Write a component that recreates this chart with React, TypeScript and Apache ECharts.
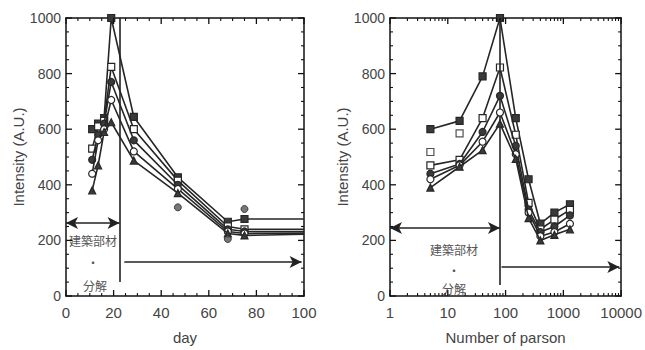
import React, { useEffect, useRef } from "react";
import * as echarts from "echarts";

// ---------- Data ----------
const dayX = [11, 13.5, 16, 19, 28.5, 47, 68, 75, 100];
const dayS1 = [600, 620, 640, 1000, 644, 427, 267, 277, 277];
const dayS2 = [530, 610, 630, 824, 600, 415, 250, 240, 240];
const dayS3 = [490, 580, 620, 770, 560, 400, 240, 232, 232];
const dayS4 = [440, 560, 600, 705, 520, 385, 232, 225, 226];
const dayS5 = [380, 470, 590, 625, 487, 370, 225, 218, 222];
const dayExtra = [
  [47, 319],
  [68, 205],
  [75, 313],
];

const personX = [5, 16, 40, 80, 150, 250, 400, 700, 1300];
const perS1 = [600, 630, 790, 1000, 640, 420, 260, 300, 330];
const perS2 = [470, 490, 640, 822, 580, 335, 240, 275, 310];
const perS3 = [440, 475, 590, 720, 540, 311, 230, 250, 290];
const perS4 = [420, 470, 555, 660, 510, 300, 215, 230, 260];
const perS5 = [390, 465, 525, 620, 493, 280, 200, 220, 240];
const perExtra = [
  [5, 518],
  [16, 585],
];

// tick values
const dayMajor = [0, 20, 40, 60, 80, 100];
const dayMinor = [5, 10, 15, 25, 30, 35, 45, 50, 55, 65, 70, 75, 85, 90, 95];
const yMajor = [0, 200, 400, 600, 800, 1000];
const yMinor = [50, 100, 150, 250, 300, 350, 450, 500, 550, 650, 700, 750, 850, 900, 950];
const logMajor = [1, 10, 100, 1000, 10000];
const logMinorFactors = [2, 3, 4, 5, 6, 7, 8, 9];

// annotation values
const dayBoundary = 22.5;
const personBoundary = 80;

const styles = [
  { symbol: "rect", fill: "#3a3a3a" },
  { symbol: "rect", fill: "#ffffff" },
  { symbol: "circle", fill: "#3a3a3a" },
  { symbol: "circle", fill: "#ffffff" },
  { symbol: "triangle", fill: "#3a3a3a" },
];

const FONT = "'Liberation Sans', Arial, sans-serif";
const CJK = "'Noto Sans CJK JP', sans-serif";

function makeLine(xs: number[], ys: number[], idx: number, axisIdx: number, lastNoMarker: boolean) {
  const st = styles[idx];
  return {
    type: "line",
    xAxisIndex: axisIdx,
    yAxisIndex: axisIdx === 0 ? 0 : 2,
    data: xs.map((x, i) => {
      const item: any = { value: [x, ys[i]] };
      if (lastNoMarker && i === xs.length - 1) item.symbolSize = 0;
      return item;
    }),
    symbol: st.symbol,
    symbolSize: 7,
    showAllSymbol: true,
    lineStyle: { color: "#262626", width: 1.6 },
    itemStyle: { color: st.fill, borderColor: "#262626", borderWidth: 1.2 },
    z: 3 + idx,
  };
}

export default function App() {
  const ref = useRef<HTMLDivElement>(null);
  useEffect(() => {
    document.body.style.margin = "0";
    const chart = echarts.init(ref.current!, null, { renderer: "svg" });

    const logMinor: number[] = [];
    logMajor.slice(0, -1).forEach((d) => logMinorFactors.forEach((k) => logMinor.push(d * k)));

    const axisLine = () => ({ show: true, onZero: false, lineStyle: { color: "#111", width: 1.5 } });
    const labelStyle = { color: "#444", fontSize: 15, fontFamily: FONT };

    const valueX = (pos: string, labels: boolean) => ({
      type: "value",
      gridIndex: 0,
      position: pos,
      min: 0,
      max: 100,
      interval: 20,
      axisLine: axisLine(),
      axisTick: { show: false },
      axisLabel: labels ? { show: true, margin: 9, ...labelStyle } : { show: false },
      splitLine: { show: false },
      name: labels ? "day" : "",
      nameLocation: "middle",
      nameGap: 34,
      nameTextStyle: { color: "#444", fontSize: 15, fontFamily: FONT },
    });

    const logX = (pos: string, labels: boolean) => ({
      type: "log",
      logBase: 10,
      gridIndex: 1,
      position: pos,
      min: 1,
      max: 10000,
      axisLine: axisLine(),
      axisTick: { show: false },
      axisLabel: labels
        ? { show: true, margin: 9, ...labelStyle, formatter: (v: number) => String(Math.round(v)) }
        : { show: false },
      splitLine: { show: false },
      name: labels ? "Number of parson" : "",
      nameLocation: "middle",
      nameGap: 34,
      nameTextStyle: { color: "#444", fontSize: 15, fontFamily: FONT },
    });

    const valueY = (grid: number, pos: string, labels: boolean) => ({
      type: "value",
      gridIndex: grid,
      position: pos,
      min: 0,
      max: 1000,
      interval: 200,
      axisLine: axisLine(),
      axisTick: { show: false },
      axisLabel: labels
        ? { show: true, margin: 5, color: "#444", fontSize: 14, fontFamily: FONT, formatter: (v: number) => String(v) }
        : { show: false },
      splitLine: { show: false },
      name: labels ? "Intensity (A.U.)" : "",
      nameLocation: "middle",
      nameGap: 40,
      nameTextStyle: { color: "#444", fontSize: 15, fontFamily: FONT },
    });

    const daySeries = [dayS1, dayS2, dayS3, dayS4, dayS5].map((s, i) => makeLine(dayX, s, i, 0, true));
    const perSeries = [perS1, perS2, perS3, perS4, perS5].map((s, i) => makeLine(personX, s, i, 2, false));

    const annLine = { color: "#222", width: 1.6, type: "solid" };

    (daySeries[0] as any).markLine = {
      silent: true,
      symbol: "none",
      symbolSize: [9, 12],
      label: { show: false },
      lineStyle: annLine,
      data: [
        [{ coord: [dayBoundary, 1000] }, { coord: [dayBoundary, 50] }],
        [{ coord: [0, 263], symbol: "arrow" }, { coord: [dayBoundary, 263], symbol: "arrow" }],
        [{ coord: [24.5, 122], symbol: "none" }, { coord: [99, 122], symbol: "arrow" }],
      ],
    };
    (perSeries[0] as any).markLine = {
      silent: true,
      symbol: "none",
      symbolSize: [9, 12],
      label: { show: false },
      lineStyle: annLine,
      data: [
        [{ coord: [personBoundary, 1000] }, { coord: [personBoundary, 40] }],
        [{ coord: [1, 245], symbol: "arrow" }, { coord: [personBoundary, 245], symbol: "arrow" }],
        [{ coord: [85, 104], symbol: "none" }, { coord: [9300, 104], symbol: "arrow" }],
      ],
    };

    const extraDay = {
      type: "scatter",
      xAxisIndex: 0,
      yAxisIndex: 0,
      data: dayExtra,
      symbol: "circle",
      symbolSize: 7,
      itemStyle: { color: "#555", borderColor: "#262626", borderWidth: 1 },
      z: 10,
    };
    const extraPer = {
      type: "scatter",
      xAxisIndex: 2,
      yAxisIndex: 2,
      data: perExtra,
      symbol: "rect",
      symbolSize: 7,
      itemStyle: { color: "#fff", borderColor: "#262626", borderWidth: 1.2 },
      z: 10,
    };

    chart.setOption({
      animation: false,
      grid: [
        { left: 66, right: 341, top: 18, bottom: 54 },
        { left: 390, right: 15, top: 18, bottom: 54 },
      ],
      xAxis: [valueX("bottom", true), valueX("top", false), logX("bottom", true), logX("top", false)],
      yAxis: [valueY(0, "left", true), valueY(0, "right", false), valueY(1, "left", true), valueY(1, "right", false)],
      series: [...daySeries, ...perSeries, extraDay, extraPer],
    });

    // frame ticks: positions taken from the axes' own scales
    const px = (xi: number, v: number) => chart.convertToPixel({ xAxisIndex: xi } as any, v) as number;
    const py = (yi: number, v: number) => chart.convertToPixel({ yAxisIndex: yi } as any, v) as number;
    const seg = (x1: number, y1: number, x2: number, y2: number, w: number) => ({
      type: "line",
      silent: true,
      z: 100,
      shape: { x1, y1, x2, y2 },
      style: { stroke: "#111", lineWidth: w },
    });
    const ticks: any[] = [];
    const frameTicks = (xi: number, yi: number, xMaj: number[], xMin: number[], xLo: number, xHi: number) => {
      const left = px(xi, xLo);
      const right = px(xi, xHi);
      const bottom = py(yi, 0);
      const top = py(yi, 1000);
      const xt = (v: number, len: number, w: number) => {
        const x = px(xi, v);
        ticks.push(seg(x, bottom, x, bottom - len, w));
        ticks.push(seg(x, top, x, top + len, w));
      };
      const yt = (v: number, len: number, w: number) => {
        const y = py(yi, v);
        ticks.push(seg(left, y, left + len, y, w));
        ticks.push(seg(right, y, right - len, y, w));
      };
      xMaj.forEach((v) => xt(v, 6, 1.3));
      xMin.forEach((v) => xt(v, 3, 1.1));
      yMajor.forEach((v) => yt(v, 6, 1.3));
      yMinor.forEach((v) => yt(v, 3, 1.1));
    };
    frameTicks(0, 0, dayMajor, dayMinor, 0, 100);
    frameTicks(2, 2, logMajor, logMinor, 1, 10000);

    const txt = (x: number, y: number, t: string) => ({
      type: "text",
      x,
      y,
      z: 100,
      style: { text: t, fill: "#555", font: `12px ${CJK}`, textAlign: "center", textVerticalAlign: "middle" },
    });

    chart.setOption({
      graphic: [
        txt(93, 240, "建築部材"),
        txt(93, 262, "・"),
        txt(95, 285, "分解"),
        txt(454, 249, "建築部材"),
        txt(454, 270, "・"),
        txt(454, 288, "分解"),
        ...ticks,
      ],
    });
    return () => chart.dispose();
  }, []);
  return <div ref={ref} style={{ width: 645, height: 350 }} />;
}
